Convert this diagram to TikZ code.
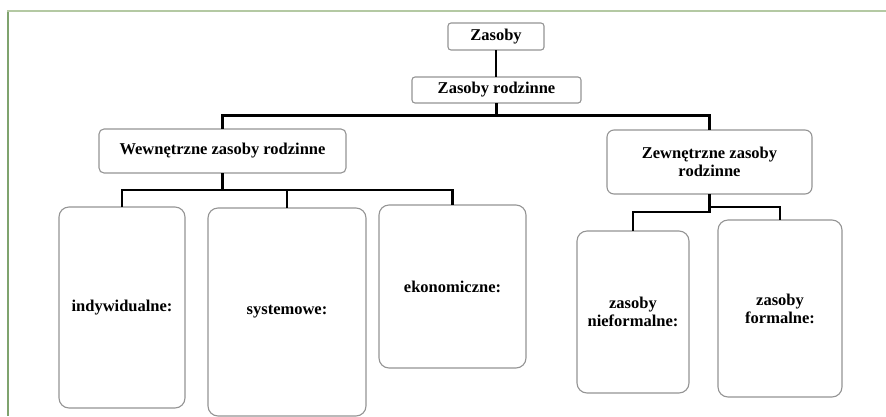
\documentclass[tikz,border=0pt]{standalone}
\usepackage{fontspec}
\setmainfont{Liberation Serif}
\begin{document}
\begin{tikzpicture}[x=1pt,y=-1pt,
  box/.style={draw=black!42, line width=1.1pt, fill=white, inner sep=0pt, outer sep=0pt,
    align=center, font=\bfseries\fontsize{16.5}{18}\selectfont},
  conn/.style={draw=black, line width=2.2pt},
]
\useasboundingbox (0,0) rectangle (886,416);
% frame
\draw[draw={rgb,255:red,127;green,163;blue,110}, line width=2.5pt] (8,10) -- (8,416);
\draw[draw={rgb,255:red,180;green,201;blue,163}, line width=2.5pt] (7,11) -- (886,11);

\node[box, rounded corners=3pt, minimum width=96pt, minimum height=27pt] (z) at (496,36.5) {Zasoby};
\node[box, rounded corners=3pt, minimum width=169pt, minimum height=26pt] (zr) at (496.5,90) {Zasoby rodzinne};
\node[box, rounded corners=5pt, minimum width=247pt, minimum height=44pt] (wz) at (222.5,151) {Wewnętrzne zasoby rodzinne};
\node[box, rounded corners=7pt, minimum width=205pt, minimum height=64pt] (zz) at (709.5,162) {Zewnętrzne zasoby\\rodzinne};
\node[box, rounded corners=10pt, minimum width=126pt, minimum height=201pt] (ind) at (122,307.5) {indywidualne:};
\node[box, rounded corners=10pt, minimum width=158pt, minimum height=208pt] (sys) at (287,312) {systemowe:};
\node[box, rounded corners=10pt, minimum width=147pt, minimum height=163pt] (eko) at (452.5,286.5) {ekonomiczne:};
\node[box, rounded corners=10pt, minimum width=112pt, minimum height=162pt] (nf) at (633,312) {zasoby\\nieformalne:};
\node[box, rounded corners=10pt, minimum width=124pt, minimum height=177pt] (f) at (780,308.5) {zasoby\\formalne:};

\coordinate (j1) at (496.5,115.5);
\coordinate (j2) at (222.5,190);
\coordinate (j3) at (709.5,207);
\coordinate (j4) at (709.5,212);

\draw[conn] (z.south) -- (z.south |- zr.north);
\draw[conn] (zr.south) -- (j1);
\draw[conn] (wz.north) |- (j1) -| (zz.north);
\draw[conn] (wz.south) -- (j2);
\draw[conn] (ind.north) |- (j2) -| (eko.north);
\draw[conn] (sys.north) -- (sys.north |- j2);
\draw[conn] (zz.south) -- (j4) -| (nf.north);
\draw[conn] (j3) -| (f.north);
\end{tikzpicture}
\end{document}
